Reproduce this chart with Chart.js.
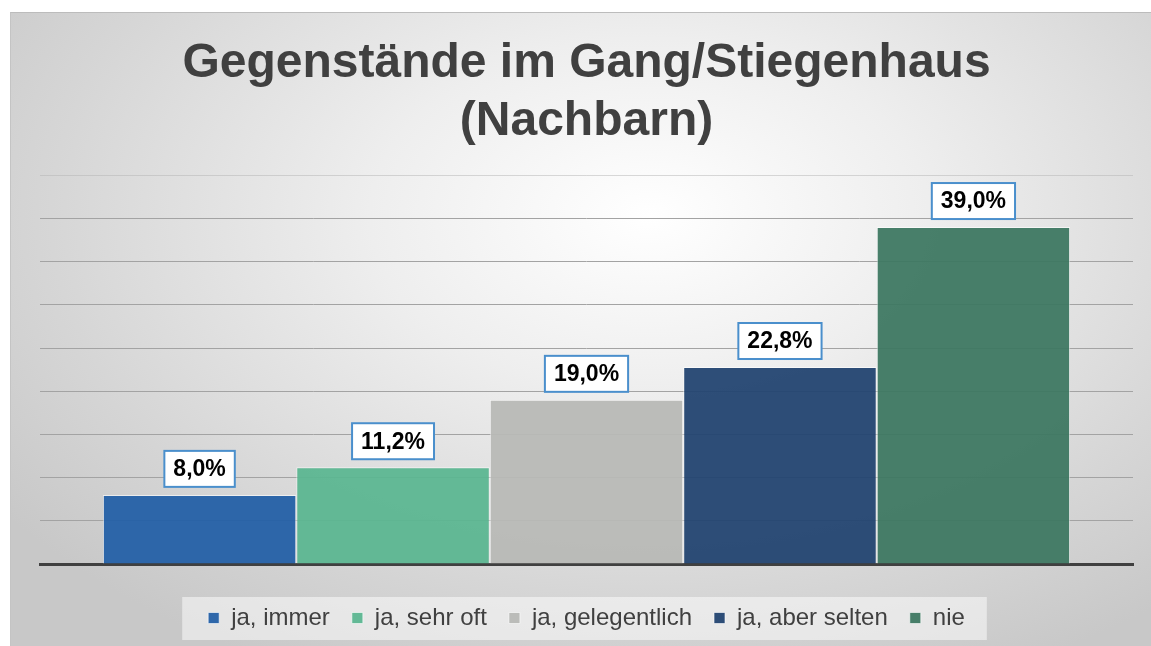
<!DOCTYPE html>
<html>
<head>
<meta charset="utf-8">
<script src="https://cdn.jsdelivr.net/npm/chart.js@4/dist/chart.umd.min.js"></script>
<style>
  html, body { margin: 0; padding: 0; background: #fff; }
  #wrap { position: relative; width: 1151px; height: 646px; }
  #card {
    position: absolute; left: 10px; top: 12px; right: 0; bottom: 0;
    border-top: 1px solid #bcbcbc; border-left: 1px solid #c4c4c4;
    background: radial-gradient(ellipse 70% 80% at 56% 32%, #ffffff 0%, #eeeeee 35%, #d6d6d6 75%, #c8c8c8 100%);
  }
  canvas { position: absolute; left: 0; top: 0; }
</style>
</head>
<body>
<div id="wrap">
  <div id="card"></div>
  <canvas id="myChart" width="1151" height="646"></canvas>
</div>
<script>
// data
let titleLines = ['Gegenstände im Gang/Stiegenhaus', '(Nachbarn)'];
let categories = ['Nachbarn'];
let answers = ['ja, immer', 'ja, sehr oft', 'ja, gelegentlich', 'ja, aber selten', 'nie'];
let percents = [8.0, 11.2, 19.0, 22.8, 39.0];
let barColors = [
    'rgba(36, 96, 166, 0.95)',
    'rgba(92, 182, 145, 0.95)',
    'rgba(184, 185, 182, 0.95)',
    'rgba(35, 68, 113, 0.95)',
    'rgba(62, 120, 98, 0.95)'
];

// labels on top of the bars (white box, blue frame)
const valueBoxes = {
    id: 'valueBoxes',
    afterDatasetsDraw(chart) {
        const ctx = chart.ctx;
        ctx.save();
        ctx.font = 'bold 23px "Liberation Sans", Arial, sans-serif';
        ctx.textAlign = 'center';
        ctx.textBaseline = 'middle';
        chart.data.datasets.forEach((ds, i) => {
            const bar = chart.getDatasetMeta(i).data[0];
            const txt = ds.data[0].toFixed(1).replace('.', ',') + '%';
            const w = ctx.measureText(txt).width + 18;
            const h = 36;
            const bottom = bar.y - 8;
            ctx.fillStyle = '#ffffff';
            ctx.fillRect(bar.x - w / 2, bottom - h, w, h);
            ctx.strokeStyle = '#4a8fcc';
            ctx.lineWidth = 2;
            ctx.strokeRect(bar.x - w / 2, bottom - h, w, h);
            ctx.fillStyle = '#000000';
            ctx.fillText(txt, bar.x, bottom - h / 2 + 1);
        });
        ctx.restore();
    }
};

// light box behind the legend
const legendBox = {
    id: 'legendBox',
    beforeDraw(chart) {
        const boxes = chart.legend.legendHitBoxes;
        if (!boxes || !boxes.length) return;
        const first = boxes[0];
        const last = boxes[boxes.length - 1];
        const ctx = chart.ctx;
        ctx.save();
        ctx.fillStyle = 'rgba(255, 255, 255, 0.5)';
        ctx.fillRect(first.left - 26, first.top + first.height / 2 - 21, last.left + last.width - first.left + 48, 43);
        ctx.restore();
    }
};

let datasets = answers.map((a, i) => ({
    label: a,
    data: [percents[i]],
    backgroundColor: barColors[i],
    borderColor: 'rgba(255, 255, 255, 0.6)',
    borderWidth: 1,
    categoryPercentage: 0.885,
    barPercentage: 1
}));

const config = {
    type: 'bar',
    data: { labels: categories, datasets },
    options: {
        responsive: false,
        animation: false,
        layout: { padding: { left: 40, right: 18, top: 4, bottom: 6 } },
        plugins: {
            title: {
                display: true,
                text: titleLines,
                color: '#404040',
                font: { family: '"Liberation Sans", Arial, sans-serif', size: 48, weight: 'bold', lineHeight: 1.2 },
                padding: { top: 31, bottom: 25 }
            },
            legend: {
                position: 'bottom',
                labels: {
                    color: '#404040',
                    font: { family: '"Liberation Sans", Arial, sans-serif', size: 24 },
                    boxWidth: 11,
                    boxHeight: 11,
                    padding: 22
                }
            },
            tooltip: { enabled: false }
        },
        scales: {
            x: {
                grid: { display: false },
                ticks: { display: false },
                border: { display: true, color: '#404040', width: 3 },
                afterFit(scale) { scale.height = 20; }
            },
            y: {
                min: 0,
                max: 45,
                ticks: { display: false, stepSize: 5 },
                border: { display: false },
                grid: {
                    drawTicks: false,
                    color: (c) => c.tick && c.tick.value === 45 ? 'rgba(180,180,180,0.5)' : '#a3a3a3',
                    lineWidth: 1
                }
            }
        }
    },
    plugins: [legendBox, valueBoxes]
};

const myChart = new Chart(document.getElementById('myChart').getContext('2d'), config);
</script>
</body>
</html>
